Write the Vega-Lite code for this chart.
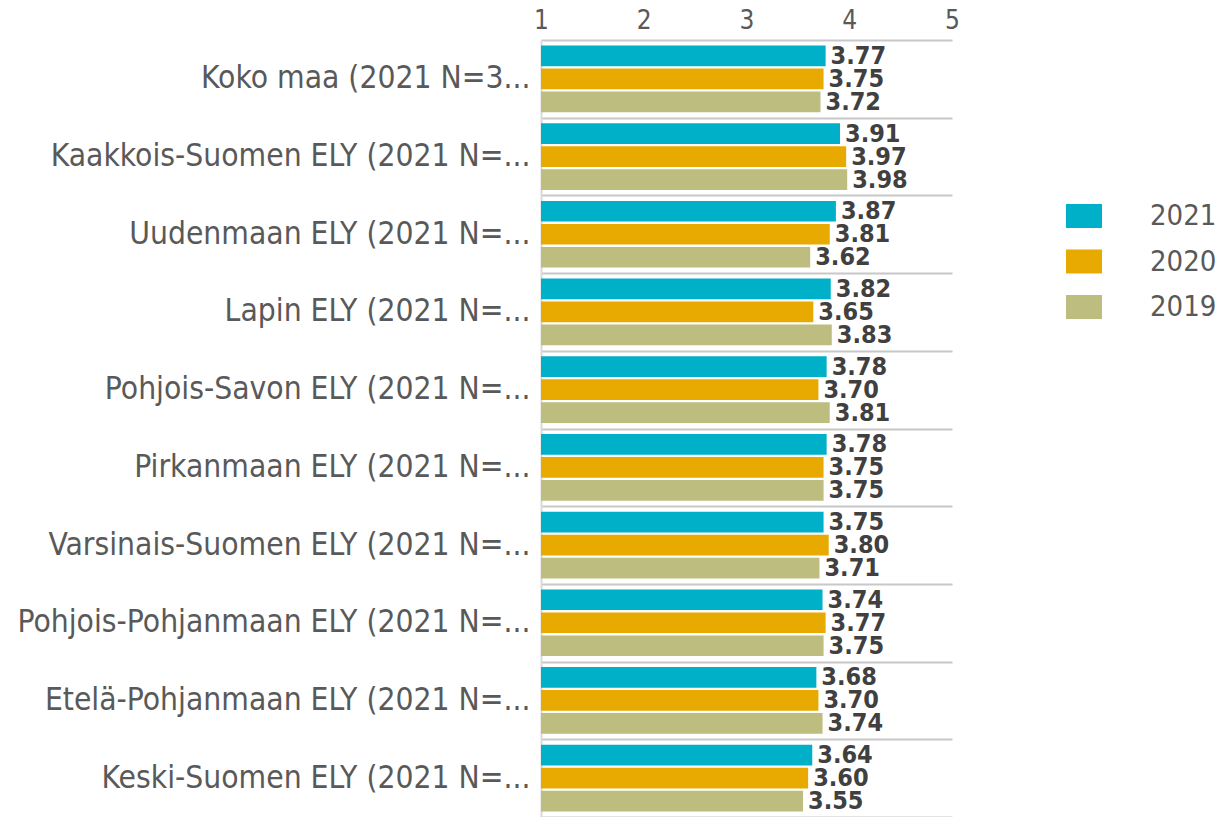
{
  "$schema": "https://vega.github.io/schema/vega-lite/v6.json",
  "width": 411,
  "height": 777,
  "autosize": {"type": "none"},
  "padding": {"left": 541, "top": 40, "right": 273, "bottom": 0},
  "background": "white",
  "config": {
    "view": {"stroke": null},
    "font": "DejaVu Sans Condensed"
  },
  "data": {
    "values": [
      {"region": "Koko maa (2021 N=3...", "year": "2021", "value": 3.77},
      {"region": "Koko maa (2021 N=3...", "year": "2020", "value": 3.75},
      {"region": "Koko maa (2021 N=3...", "year": "2019", "value": 3.72},
      {"region": "Kaakkois-Suomen ELY (2021 N=...", "year": "2021", "value": 3.91},
      {"region": "Kaakkois-Suomen ELY (2021 N=...", "year": "2020", "value": 3.97},
      {"region": "Kaakkois-Suomen ELY (2021 N=...", "year": "2019", "value": 3.98},
      {"region": "Uudenmaan ELY (2021 N=...", "year": "2021", "value": 3.87},
      {"region": "Uudenmaan ELY (2021 N=...", "year": "2020", "value": 3.81},
      {"region": "Uudenmaan ELY (2021 N=...", "year": "2019", "value": 3.62},
      {"region": "Lapin ELY (2021 N=...", "year": "2021", "value": 3.82},
      {"region": "Lapin ELY (2021 N=...", "year": "2020", "value": 3.65},
      {"region": "Lapin ELY (2021 N=...", "year": "2019", "value": 3.83},
      {"region": "Pohjois-Savon ELY (2021 N=...", "year": "2021", "value": 3.78},
      {"region": "Pohjois-Savon ELY (2021 N=...", "year": "2020", "value": 3.70},
      {"region": "Pohjois-Savon ELY (2021 N=...", "year": "2019", "value": 3.81},
      {"region": "Pirkanmaan ELY (2021 N=...", "year": "2021", "value": 3.78},
      {"region": "Pirkanmaan ELY (2021 N=...", "year": "2020", "value": 3.75},
      {"region": "Pirkanmaan ELY (2021 N=...", "year": "2019", "value": 3.75},
      {"region": "Varsinais-Suomen ELY (2021 N=...", "year": "2021", "value": 3.75},
      {"region": "Varsinais-Suomen ELY (2021 N=...", "year": "2020", "value": 3.80},
      {"region": "Varsinais-Suomen ELY (2021 N=...", "year": "2019", "value": 3.71},
      {"region": "Pohjois-Pohjanmaan ELY (2021 N=...", "year": "2021", "value": 3.74},
      {"region": "Pohjois-Pohjanmaan ELY (2021 N=...", "year": "2020", "value": 3.77},
      {"region": "Pohjois-Pohjanmaan ELY (2021 N=...", "year": "2019", "value": 3.75},
      {"region": "Etelä-Pohjanmaan ELY (2021 N=...", "year": "2021", "value": 3.68},
      {"region": "Etelä-Pohjanmaan ELY (2021 N=...", "year": "2020", "value": 3.70},
      {"region": "Etelä-Pohjanmaan ELY (2021 N=...", "year": "2019", "value": 3.74},
      {"region": "Keski-Suomen ELY (2021 N=...", "year": "2021", "value": 3.64},
      {"region": "Keski-Suomen ELY (2021 N=...", "year": "2020", "value": 3.60},
      {"region": "Keski-Suomen ELY (2021 N=...", "year": "2019", "value": 3.55}
    ]
  },
  "encoding": {
    "y": {
      "field": "region",
      "type": "nominal",
      "sort": null,
      "scale": {"paddingInner": 0, "paddingOuter": 0},
      "axis": {
        "title": null,
        "ticks": false,
        "tickBand": "extent",
        "grid": true,
        "gridColor": "#C8C8C8",
        "gridWidth": 2,
        "domain": true,
        "domainColor": "#D9D9D9",
        "domainWidth": 2,
        "labelFont": "DejaVu Sans Condensed",
        "labelFontSize": 31.5,
        "labelColor": "#595959",
        "labelPadding": 11,
        "labelLimit": 600
      }
    },
    "yOffset": {
      "field": "year",
      "type": "nominal",
      "sort": ["2021", "2020", "2019"],
      "scale": {"paddingInner": 0.1, "paddingOuter": 0.24}
    },
    "x": {
      "field": "value",
      "type": "quantitative",
      "scale": {"domain": [1, 5], "zero": false, "nice": false},
      "axis": {
        "orient": "top",
        "title": null,
        "values": [1, 2, 3, 4, 5],
        "format": "d",
        "ticks": false,
        "domain": false,
        "grid": false,
        "labelFont": "DejaVu Sans Condensed",
        "labelFontSize": 26,
        "labelColor": "#595959",
        "labelPadding": 7,
        "labelFlush": false
      }
    }
  },
  "layer": [
    {
      "mark": {"type": "bar"},
      "encoding": {
        "x2": {"datum": 1},
        "color": {
          "field": "year",
          "type": "nominal",
          "scale": {"domain": ["2021", "2020", "2019"], "range": ["#00AFC8", "#E8AA00", "#BDBD80"]},
          "legend": {
            "title": null,
            "orient": "none",
            "legendX": 525,
            "legendY": 158,
            "padding": 0,
            "symbolType": "M-1,-0.66L1,-0.66L1,0.66L-1,0.66Z",
            "symbolSize": 1296,
            "symbolStrokeWidth": 0,
            "symbolOpacity": 1,
            "rowPadding": 12.5,
            "labelOffset": 48,
            "labelFont": "DejaVu Sans Condensed",
            "labelFontSize": 29,
            "labelColor": "#595959"
          }
        }
      }
    },
    {
      "mark": {
        "type": "text",
        "align": "left",
        "baseline": "middle",
        "dx": 5,
        "font": "DejaVu Sans Condensed",
        "fontSize": 25,
        "fontWeight": "bold",
        "color": "#404040"
      },
      "encoding": {
        "text": {"field": "value", "type": "quantitative", "format": ".2f"}
      }
    }
  ]
}
